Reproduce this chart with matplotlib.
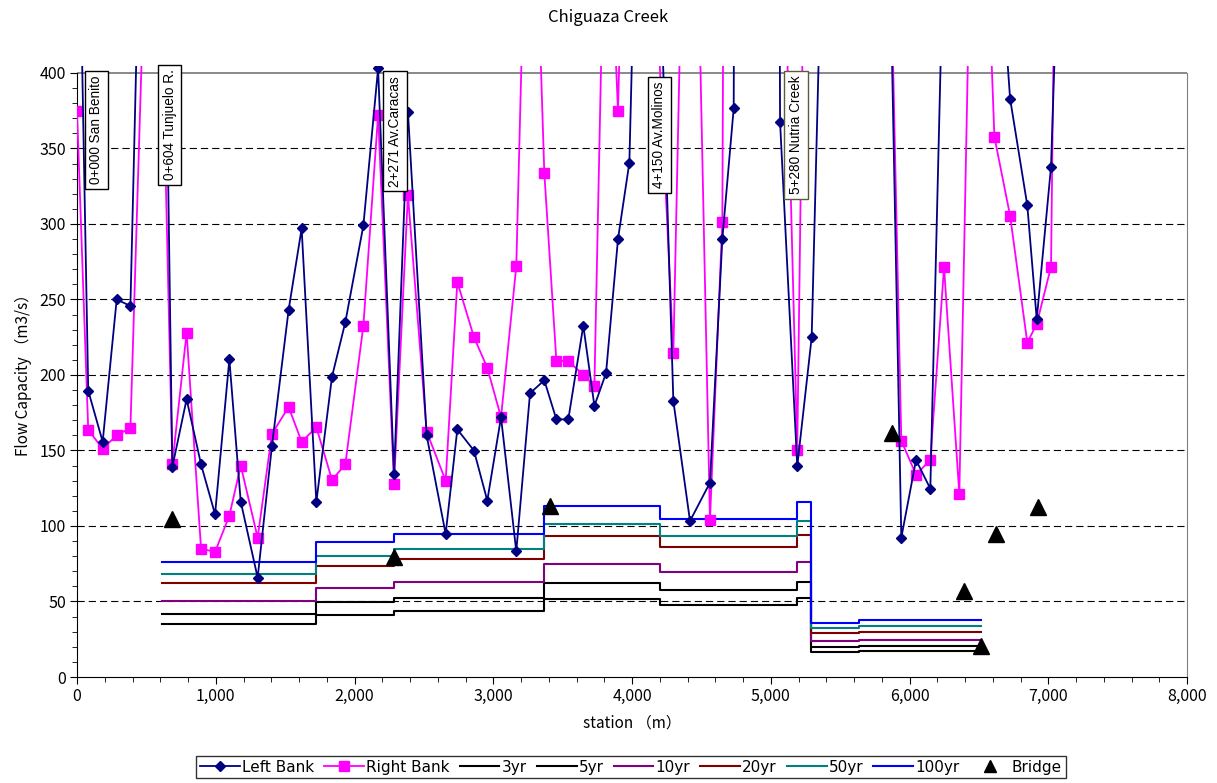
import matplotlib
matplotlib.use("Agg")
import matplotlib.pyplot as plt
from matplotlib.ticker import MultipleLocator, FuncFormatter
from matplotlib.lines import Line2D

plt.rcParams["font.family"] = ["Noto Sans CJK JP", "DejaVu Sans"]

# Survey stations along the creek (m)
stations = [0, 81, 185, 286, 385, 500, 604, 687, 790, 894, 995, 1098, 1180, 1302,
            1405, 1525, 1619, 1725, 1838, 1934, 2064, 2170, 2285, 2385, 2520, 2657,
            2741, 2861, 2957, 3056, 3166, 3265, 3368, 3455, 3541, 3649, 3729, 3813,
            3899, 3981, 4100, 4298, 4418, 4562, 4651, 4733, 4800, 5000, 5067, 5191,
            5295, 5400, 5850, 5941, 6047, 6150, 6249, 6359, 6480, 6612, 6725, 6849,
            6917, 7020, 7100]

# Bank-full flow capacity (m3/s); sections above 400 run off the chart
left_bank = [590, 189.6, 155.8, 250, 245.7, 689, 667, 139, 184, 140.8, 107.7, 210.4,
             116.1, 65.8, 153, 243, 297, 115.9, 198.9, 235, 299, 403, 134.4, 374.4,
             160, 94.7, 164, 149.9, 116.8, 172, 83.2, 187.9, 196.5, 170.6, 170.6,
             232.7, 179.5, 201.3, 290, 340.6, 780, 182.8, 103.3, 128.7, 290, 376.6,
             2500, 2500, 367.8, 139.5, 225, 608, 523, 92.3, 143.7, 124.7, 500, 800,
             800, 530, 383, 312.3, 236.9, 338, 563]

right_bank = [375, 163.6, 151.2, 160, 165, 512, 472, 141, 228, 85, 82.8, 106.8, 140,
              92.3, 161, 178.8, 155.8, 165.4, 130.5, 140.8, 232.7, 372.2, 127.8, 319.4,
              162.5, 130, 261.6, 225, 204.8, 172, 272, 631, 333.8, 209.3, 209.3, 200,
              192.9, 563, 374.8, 670, 600, 214.4, 732, 103.8, 301.5, 2000, 2000, 2000,
              600, 150.5, 871, 900, 539, 156.5, 134, 143.7, 271.3, 121.2, 683, 357.6,
              305.5, 221.4, 233.8, 271.7, 913]

# Design discharge by reach (reach edges in m, one value per reach)
reach_edges = [610, 1725, 2285, 3368, 4204, 5191, 5288, 5636, 6515]
q3 = [35.1, 41.1, 43.5, 51.9, 47.5, 52.1, 16.5, 17.0]
q5 = [41.9, 49.4, 52.5, 62.3, 57.8, 62.7, 19.9, 20.7]
q10 = [50.5, 59.1, 62.9, 74.8, 69.3, 75.9, 23.8, 24.7]
q20 = [62.3, 73.5, 78.4, 93.2, 86.3, 94.0, 29.1, 30.0]
q50 = [68.4, 80.1, 84.8, 101.1, 93.6, 103.5, 32.7, 33.6]
q100 = [76.4, 89.4, 94.9, 113.2, 104.4, 115.9, 36.0, 37.5]

bridge_station = [687, 2285, 3409, 5871, 6395, 6513, 6623, 6923]
bridge_flow = [104.5, 79.7, 113.2, 161.8, 57.2, 20.5, 94.7, 112.8]

# Control points: label, box centre station, box top value, edge colour
landmarks = [
    ("0+000 San Benito", 139, 401.5, "black"),
    ("0+604 Tunjuelo R.", 667, 405.8, "black"),
    ("2+271 Av.Caracas", 2290, 401.5, "black"),
    ("4+150 Av.Molinos", 4198, 397.5, "black"),
    ("5+280 Nutria Creek", 5183, 401.5, "#5c5c3c"),
]

fig = plt.figure(figsize=(12.17, 7.83), dpi=100)
ax = fig.add_axes([77 / 1217, 1 - 677 / 783, 1110 / 1217, 611 / 783])
ax.set_xlim(0, 8000)
ax.set_ylim(0, 404.6)

for y in range(50, 400, 50):
    ax.axhline(y, color="black", lw=0.8, dashes=(6.5, 3.6), zorder=1)
ax.axhline(400, color="#808080", lw=1.3, zorder=1)

periods = [("3yr", q3, "black"), ("5yr", q5, "black"), ("10yr", q10, "#800080"),
           ("20yr", q20, "#800000"), ("50yr", q50, "#008080"), ("100yr", q100, "#0000ff")]
for name, q, col in periods:
    ax.step(reach_edges, q + [q[-1]], where="post", color=col, lw=1.5, zorder=2)

ax.plot(stations, right_bank, color="#ff00ff", lw=1.3, marker="s", ms=6.5,
        mec="#ff00ff", zorder=3)
ax.plot(stations, left_bank, color="#000080", lw=1.3, marker="D", ms=5.5,
        mec="#000080", zorder=4)
ax.plot(bridge_station, bridge_flow, ls="none", marker="^", ms=11, color="black", zorder=5)

for text, xc, top, ec in landmarks:
    ax.text(xc, top - 3.4, text, rotation=90, ha="center", va="top", fontsize=9.8,
            family="Liberation Sans", zorder=6,
            bbox=dict(boxstyle="square,pad=0.35", fc="white", ec=ec, lw=1.0))

ax.spines["top"].set_visible(False)
ax.spines["right"].set_color("#808080")
ax.spines["right"].set_bounds(0, 400)
ax.spines["left"].set_bounds(0, 400)

ax.set_yticks(range(0, 401, 50))
ax.yaxis.set_minor_locator(MultipleLocator(10))
ax.xaxis.set_major_locator(MultipleLocator(1000))
ax.xaxis.set_minor_locator(MultipleLocator(200))
ax.xaxis.set_major_formatter(FuncFormatter(lambda v, p: f"{int(v):,}"))
ax.tick_params(which="major", length=5, labelsize=11.5, pad=3)
ax.tick_params(which="minor", length=3.5)

ax.set_xlabel("station （m）", fontsize=11, labelpad=7)
ax.set_ylabel("Flow Capacity （m3/s）", fontsize=11, labelpad=5)
fig.text(0.5, 1 - 17 / 783, "Chiguaza Creek", ha="center", va="center", fontsize=12)

handles = [
    Line2D([], [], color="#000080", lw=1.3, marker="D", ms=5.5),
    Line2D([], [], color="#ff00ff", lw=1.3, marker="s", ms=6.5),
] + [Line2D([], [], color=c, lw=1.5) for _, _, c in periods] + [
    Line2D([], [], ls="none", marker="^", ms=9, color="black"),
]
labels = ["Left Bank", "Right Bank"] + [n for n, _, _ in periods] + ["Bridge"]
leg = fig.legend(handles, labels, loc="lower center", bbox_to_anchor=(0.5185, 0.002),
                 ncol=9, prop={"family": "DejaVu Sans", "size": 11}, frameon=True,
                 fancybox=False, edgecolor="black", handlelength=2.6,
                 handletextpad=0.15, columnspacing=0.65, borderpad=0.25,
                 borderaxespad=0.2)
leg.get_frame().set_linewidth(1.0)

fig.savefig("out.png", dpi=100)
